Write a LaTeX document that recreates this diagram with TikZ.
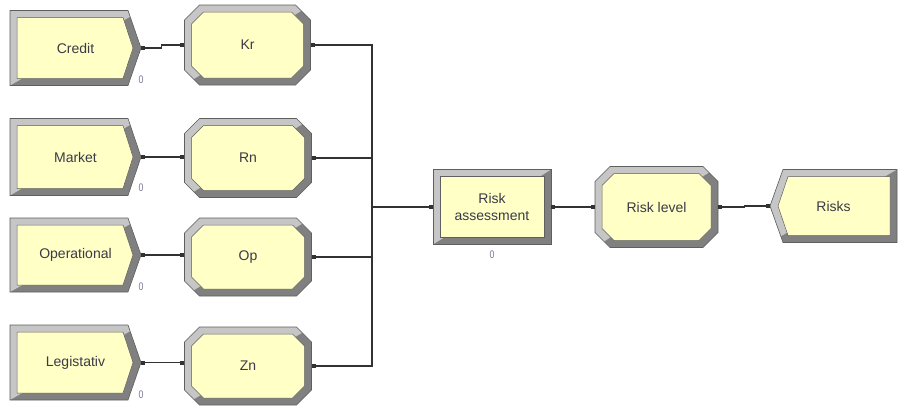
\documentclass[tikz,border=0pt]{standalone}
\usepackage{fontspec}
\setmainfont{Liberation Sans}
\usetikzlibrary{arrows.meta}
\definecolor{fillY}{RGB}{255,255,198}
\definecolor{bevL}{RGB}{198,198,198}
\definecolor{bevD}{RGB}{128,128,128}
\definecolor{edgeC}{RGB}{95,95,95}
\definecolor{txtC}{RGB}{58,58,72}
\definecolor{lineC}{RGB}{50,50,50}
\definecolor{zeroC}{RGB}{120,120,150}
\tikzset{
  lbl/.style={text=txtC, font=\fontsize{14}{17}\selectfont, align=center, inner sep=0pt},
  zero/.style={text=zeroC, font=\fontsize{11}{11}\selectfont, inner sep=0pt, xscale=0.8},
  conn/.style={draw=lineC, line width=1.2pt},
  conntwo/.style={conn, {Square[length=4pt,width=4pt]}-{Square[length=4pt,width=4pt]}},
  connone/.style={conn, {Square[length=4pt,width=4pt]}-},
  outl/.style={draw=edgeC, line width=0.6pt},
  innr/.style={fill=fillY, draw=edgeC, line width=0.5pt}
}
\newcommand\OctP[3]{(-#1+#3,-#2) -- (#1-#3,-#2) -- (#1,-#2+#3) -- (#1,#2-#3) -- (#1-#3,#2) -- (-#1+#3,#2) -- (-#1,#2-#3) -- (-#1,-#2+#3) -- cycle}
\newcommand\RtP[3]{(-#1,-#2) -- (#1-#3,-#2) -- (#1,0) -- (#1-#3,#2) -- (-#1,#2) -- cycle}
\newcommand\LtP[3]{(#1,-#2) -- (-#1+#3,-#2) -- (-#1,0) -- (-#1+#3,#2) -- (#1,#2) -- cycle}
\newcommand\RcP[2]{(-#1,-#2) rectangle (#1,#2)}
\newcommand\ProcBlk[6]{%
  \pgfmathsetmacro\ha{#4/2}\pgfmathsetmacro\hb{#5/2}%
  \pgfmathsetmacro\ia{\ha-7}\pgfmathsetmacro\ib{\hb-7}%
  \begin{scope}[shift={(#2,#3)}]
    \fill[bevD] \OctP{\ha}{\hb}{15};
    \begin{scope}
      \clip (-\ha,-\hb) -- (\ha,-\hb) -- (-\ha,\hb) -- cycle;
      \fill[bevL] \OctP{\ha}{\hb}{15};
    \end{scope}
    \draw[outl] \OctP{\ha}{\hb}{15};
    \filldraw[innr] \OctP{\ia}{\ib}{12};
  \end{scope}
  \node[lbl, minimum width=#4, minimum height=#5] (#1) at (#2,#3) {#6};
}
\newcommand\CreateBlk[6]{%
  \pgfmathsetmacro\ha{#4/2}\pgfmathsetmacro\hb{#5/2}%
  \begin{scope}[shift={(#2,#3)}]
    \fill[bevD] \RtP{\ha}{\hb}{13};
    \begin{scope}
      \clip (-\ha,-\hb) -- (\ha,-\hb) -- (-\ha,\hb) -- cycle;
      \fill[bevL] \RtP{\ha}{\hb}{13};
    \end{scope}
    \draw[outl] \RtP{\ha}{\hb}{13};
    \filldraw[innr] (-\ha+7,-\hb+7) -- (\ha-18,-\hb+7) -- (\ha-8,0) -- (\ha-18,\hb-7) -- (-\ha+7,\hb-7) -- cycle;
  \end{scope}
  \node[lbl, minimum width=#4, minimum height=#5] (#1) at (#2,#3) {#6};
}
\newcommand\DisposeBlk[6]{%
  \pgfmathsetmacro\ha{#4/2}\pgfmathsetmacro\hb{#5/2}%
  \begin{scope}[shift={(#2,#3)}]
    \fill[bevD] \LtP{\ha}{\hb}{13};
    \begin{scope}
      \clip (-\ha,-\hb) -- (\ha,-\hb) -- (-\ha,\hb) -- cycle;
      \fill[bevL] \LtP{\ha}{\hb}{13};
    \end{scope}
    \draw[outl] \LtP{\ha}{\hb}{13};
    \filldraw[innr] (\ha-7,-\hb+7) -- (-\ha+18,-\hb+7) -- (-\ha+8,0) -- (-\ha+18,\hb-7) -- (\ha-7,\hb-7) -- cycle;
  \end{scope}
  \node[lbl, minimum width=#4, minimum height=#5] (#1) at (#2,#3) {#6};
}
\newcommand\RectBlk[6]{%
  \pgfmathsetmacro\ha{#4/2}\pgfmathsetmacro\hb{#5/2}%
  \pgfmathsetmacro\ia{\ha-7}\pgfmathsetmacro\ib{\hb-7}%
  \begin{scope}[shift={(#2,#3)}]
    \fill[bevD] \RcP{\ha}{\hb};
    \begin{scope}
      \clip (-\ha,-\hb) -- (\ha,-\hb) -- (-\ha,\hb) -- cycle;
      \fill[bevL] \RcP{\ha}{\hb};
    \end{scope}
    \draw[outl] \RcP{\ha}{\hb};
    \filldraw[innr] \RcP{\ia}{\ib};
  \end{scope}
  \node[lbl, minimum width=#4, minimum height=#5] (#1) at (#2,#3) {#6};
}
\begin{document}
\begin{tikzpicture}[x=1pt,y=-1pt]
\useasboundingbox[fill=white] (0,0) rectangle (901,410);
% create blocks
\CreateBlk{credit}{75.5}{48}{131}{75}{Credit}
\CreateBlk{market}{75.5}{157}{131}{77}{Market}
\CreateBlk{operational}{75.5}{255}{131}{74}{Operational}
\CreateBlk{legistativ}{75.5}{362.5}{131}{75}{Legistativ}
% process blocks
\ProcBlk{kr}{247.5}{45}{126}{80}{Kr}
\ProcBlk{rn}{248}{158}{127}{79}{Rn}
\ProcBlk{op}{248}{257}{127}{78}{Op}
\ProcBlk{zn}{248}{366}{127}{78}{Zn}
% right side
\RectBlk{ra}{492}{207}{118}{75}{Risk\\assessment}
\ProcBlk{rl}{656.5}{207}{123}{81}{Risk level}
\DisposeBlk{risks}{833.5}{206}{127}{73}{Risks}
% zero labels
\node[zero] (z1) at (141,80) {0};
\node[zero] (z2) at (141,188) {0};
\node[zero] (z3) at (141,287) {0};
\node[zero] (z4) at (141,395) {0};
\node[zero] (z5) at (492,255) {0};
% connectors
\coordinate (junc) at (372,207);
\draw[conntwo] (credit.east) -- ++(20,0) |- (kr.west);
\draw[conntwo] (market.east) -- (market.east -| rn.west);
\draw[conntwo] (operational.east) -- (operational.east -| op.west);
\draw[conntwo] (legistativ.east) -- (legistativ.east -| zn.west);
\draw[conntwo] (kr.east) -| (junc) -- (ra.west);
\draw[connone] (rn.east) -- (rn.east -| junc);
\draw[connone] (op.east) -| (junc);
\draw[connone] (zn.east) -| (junc);
\draw[conntwo] (ra.east) -- (rl.west);
\draw[conntwo] (rl.east) -- ++(26,0) |- (risks.west);
\end{tikzpicture}
\end{document}
